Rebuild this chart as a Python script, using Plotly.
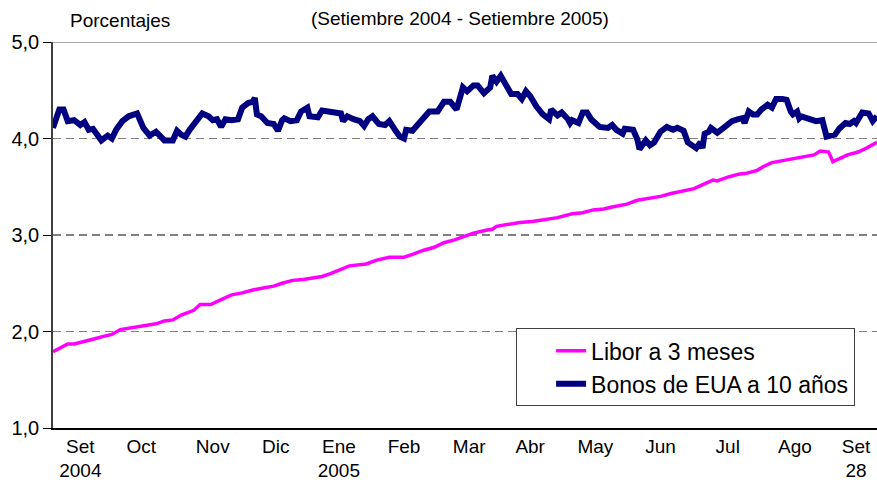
import pandas as pd
import plotly.graph_objects as go

inicio = pd.Timestamp("2004-09-01")

# Bonos de EUA a 10 años (dias desde el 1 de setiembre 2004, porcentaje)
bonos_dias = [0, 3, 5, 7, 10, 13, 15, 17, 19, 21, 23, 26, 28, 30, 33, 36, 38, 40, 43, 46,
              49, 51, 53, 57, 59, 61, 63, 65, 69, 71, 74, 76, 78, 80, 82, 85, 88, 90, 93, 95,
              96, 97, 99, 102, 105, 107, 109, 110, 113, 116, 118, 121, 122, 126, 128, 131,
              133, 137, 138, 140, 143, 146, 148, 150, 152, 155, 158, 160, 163, 165, 167, 168,
              171, 174, 176, 179, 183, 186, 189, 192, 195, 197, 200, 202, 205, 208, 209, 211,
              213, 215, 218, 221, 223, 225, 227, 230, 233, 236, 237, 240, 242, 245, 246, 247,
              250, 252, 254, 256, 259, 260, 264, 266, 268, 271, 272, 276, 278, 279, 282, 284,
              286, 289, 292, 295, 297, 300, 302, 304, 306, 308, 309, 310, 312, 313, 316, 319,
              321, 323, 326, 328, 329, 331, 333, 335, 337, 340, 342, 344, 347, 349, 351, 352,
              354, 355, 356, 360, 363, 366, 368, 372, 374, 377, 379, 381, 382, 385, 388, 390, 392]
bonos = [4.11, 4.30, 4.30, 4.18, 4.19, 4.14, 4.17, 4.09, 4.10, 4.04, 3.98, 4.03, 4.00, 4.09,
         4.18, 4.23, 4.24, 4.26, 4.11, 4.03, 4.07, 4.03, 3.98, 3.98, 4.08, 4.04, 4.02, 4.09,
         4.21, 4.26, 4.23, 4.19, 4.20, 4.12, 4.20, 4.19, 4.20, 4.32, 4.37, 4.38, 4.42, 4.25,
         4.23, 4.16, 4.15, 4.08, 4.19, 4.21, 4.18, 4.19, 4.28, 4.32, 4.23, 4.22, 4.29, 4.28,
         4.28, 4.26, 4.18, 4.23, 4.20, 4.18, 4.13, 4.20, 4.23, 4.15, 4.14, 4.18, 4.08, 4.02,
         4.00, 4.09, 4.08, 4.16, 4.20, 4.28, 4.28, 4.38, 4.38, 4.30, 4.53, 4.49, 4.55, 4.55,
         4.47, 4.53, 4.65, 4.59, 4.65, 4.56, 4.46, 4.46, 4.41, 4.49, 4.44, 4.33, 4.25, 4.20,
         4.30, 4.24, 4.27, 4.20, 4.16, 4.19, 4.16, 4.27, 4.27, 4.20, 4.15, 4.12, 4.11, 4.14,
         4.09, 4.05, 4.10, 4.09, 3.99, 3.89, 3.98, 3.93, 3.96, 4.07, 4.12, 4.09, 4.11, 4.08,
         3.96, 3.92, 3.90, 3.96, 3.90, 4.05, 4.07, 4.11, 4.06, 4.11, 4.15, 4.18, 4.20, 4.21,
         4.16, 4.28, 4.25, 4.25, 4.30, 4.35, 4.32, 4.41, 4.41, 4.40, 4.28, 4.25, 4.28, 4.21,
         4.23, 4.21, 4.18, 4.19, 4.02, 4.04, 4.10, 4.16, 4.15, 4.18, 4.16, 4.27, 4.26, 4.18, 4.23]

# Libor a 3 meses
libor_dias = [0, 7, 10, 14, 19, 24, 28, 32, 37, 40, 45, 49, 53, 57, 61, 67, 70, 75, 80, 85,
              90, 95, 100, 105, 109, 114, 119, 124, 128, 132, 137, 141, 149, 154, 160, 167,
              171, 176, 181, 186, 191, 195, 200, 206, 209, 211, 216, 222, 228, 235, 240, 247,
              252, 257, 262, 266, 273, 278, 284, 289, 294, 299, 305, 311, 314, 316, 321, 326,
              330, 335, 338, 342, 347, 352, 359, 362, 365, 369, 371, 374, 378, 383, 387, 392]
libor = [1.79, 1.87, 1.87, 1.89, 1.92, 1.95, 1.97, 2.02, 2.04, 2.05, 2.07, 2.08, 2.11, 2.12,
         2.17, 2.22, 2.28, 2.28, 2.33, 2.38, 2.40, 2.43, 2.45, 2.47, 2.50, 2.53, 2.54, 2.56,
         2.57, 2.60, 2.64, 2.68, 2.70, 2.74, 2.77, 2.77, 2.80, 2.84, 2.87, 2.92, 2.95, 2.98,
         3.02, 3.05, 3.06, 3.09, 3.11, 3.13, 3.14, 3.16, 3.18, 3.22, 3.23, 3.26, 3.27, 3.29,
         3.32, 3.36, 3.38, 3.40, 3.43, 3.45, 3.48, 3.54, 3.57, 3.56, 3.60, 3.63, 3.64, 3.67,
         3.71, 3.75, 3.77, 3.79, 3.82, 3.83, 3.87, 3.86, 3.76, 3.79, 3.83, 3.86, 3.90, 3.96]

meses_fechas = ["2004-09-14", "2004-10-13", "2004-11-16", "2004-12-16", "2005-01-15",
                "2005-02-15", "2005-03-18", "2005-04-16", "2005-05-17", "2005-06-17",
                "2005-07-19", "2005-08-20", "2005-09-18"]
meses = ["Set<br>2004", "Oct", "Nov", "Dic", "Ene<br>2005", "Feb", "Mar", "Abr", "May",
         "Jun", "Jul", "Ago", "Set<br>28"]

fuente = "Liberation Sans, Arial, sans-serif"

x_libor = inicio + pd.to_timedelta(libor_dias, unit="D")
x_bonos = inicio + pd.to_timedelta(bonos_dias, unit="D")

fig = go.Figure()
fig.add_trace(go.Scatter(x=x_libor, y=libor, mode="lines", name="Libor a 3 meses",
                         line=dict(color="#FF00FF", width=3.5)))
fig.add_trace(go.Scatter(x=x_bonos, y=bonos, mode="lines", name="Bonos de EUA a 10 años",
                         line=dict(color="#000080", width=6)))

# lineas horizontales de referencia
for nivel, color in [(2, "#808080"), (3, "#000000"), (4, "#808080")]:
    fig.add_shape(type="line", xref="paper", x0=0, x1=1, yref="y", y0=nivel, y1=nivel,
                  line=dict(color=color, width=1, dash="8px,5px"), layer="below")
fig.add_shape(type="line", xref="paper", x0=0, x1=1, yref="y", y0=5, y1=5,
              line=dict(color="#909090", width=1.5), layer="below")

fig.add_annotation(text="Porcentajes", xref="paper", yref="paper", x=0.018, y=1.0,
                   yshift=22, xanchor="left", yanchor="middle", showarrow=False,
                   font=dict(size=19, color="black", family=fuente))
fig.add_annotation(text="(Setiembre 2004 - Setiembre 2005)", xref="paper", yref="paper",
                   x=0.494, y=1.0, yshift=24, xanchor="center", yanchor="middle",
                   showarrow=False, font=dict(size=19, color="black", family=fuente))

fig.update_layout(
    width=877, height=483,
    margin=dict(l=53, r=0, t=42, b=55),
    paper_bgcolor="white", plot_bgcolor="white",
    font=dict(family=fuente, color="black", size=20),
    separators=",.",
    showlegend=True,
    legend=dict(x=0.562, y=0.258, xanchor="left", yanchor="top",
                bgcolor="white", bordercolor="#404040", borderwidth=1,
                font=dict(size=23, family=fuente), indentation=34,
                entrywidth=290, entrywidthmode="pixels",
                tracegroupgap=0),
)
fig.update_xaxes(range=[inicio, inicio + pd.Timedelta(days=392)],
                 tickvals=pd.to_datetime(meses_fechas), ticktext=meses,
                 ticks="", showgrid=False, showline=True, linecolor="black",
                 linewidth=1.5, tickfont=dict(size=19), zeroline=False,
                 automargin=False)
fig.update_yaxes(range=[1, 5], tickvals=[1, 2, 3, 4, 5], tickformat=".1f",
                 ticks="outside", ticklen=8, tickcolor="black", tickwidth=1,
                 showgrid=False, showline=True, linecolor="#404040", linewidth=1.5,
                 tickfont=dict(size=20), zeroline=False, automargin=False)

# sin margen del body para que la figura ocupe la ventana completa
fig.write_html("out.html", config={"displayModeBar": False},
               post_script="document.body.style.margin='0';")
